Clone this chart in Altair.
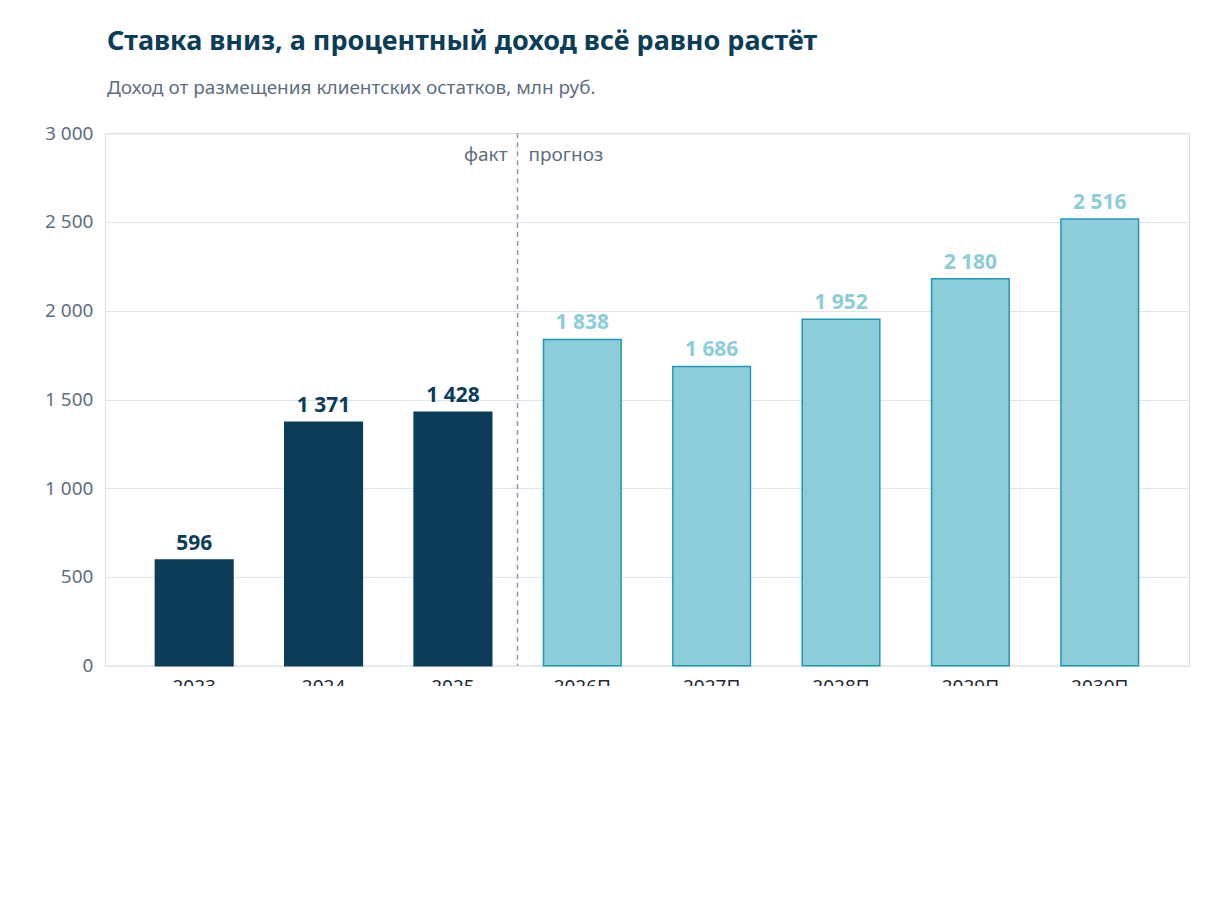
import altair as alt
import pandas as pd

years = ["2023", "2024", "2025", "2026П", "2027П", "2028П", "2029П", "2030П"]
values = [596, 1371, 1428, 1838, 1686, 1952, 2180, 2516]
labels = ["596", "1 371", "1 428", "1 838", "1 686", "1 952", "2 180", "2 516"]
kinds = ["fact", "fact", "fact", "fc", "fc", "fc", "fc", "fc"]

title = "Ставка вниз, а процентный доход всё равно растёт"
subtitle = "Доход от размещения клиентских остатков, млн руб."
note = [
    "В 2026 году в доход попали задатки участников торгов по Домодедово, разовый эффект. Дальше база",
    "растёт вместе с клиентскими остатками и перекрывает снижение ключевой ставки с 14,5% в 2026 году",
    "до 11,5% с 2028-го.",
]
source = "Финмодель Усиленных Инвестиций"

df = pd.DataFrame({"year": years, "value": values, "label": labels, "kind": kinds})
FONT = "Noto Sans"

xs = alt.Scale(domain=years, paddingInner=0.4, paddingOuter=0.39)
ys = alt.Scale(domain=[0, 3000])
X = alt.X("year:N", scale=xs, sort=years,
          axis=alt.Axis(title=None, labelAngle=0, labelFontSize=19, labelColor="#1f2a36",
                        labelFont=FONT, ticks=False, domain=False, labelPadding=12))
Y = alt.Y("value:Q", scale=ys,
          axis=alt.Axis(title=None, values=[0, 500, 1000, 1500, 2000, 2500, 3000],
                        labelExpr="replace(format(datum.value, ',d'), ',', ' ')",
                        labelFontSize=19, labelColor="#5d6e80", labelFont=FONT,
                        ticks=False, domain=False, gridColor="#dde4ec", labelPadding=12))

col = alt.Color("kind:N", scale=alt.Scale(domain=["fact", "fc"], range=["#0b3d59", "#8ccdd9"]), legend=None)
strk = alt.Stroke("kind:N", scale=alt.Scale(domain=["fact", "fc"], range=["#0b3d59", "#1a9ab5"]), legend=None)
tcol = alt.Color("kind:N", scale=alt.Scale(domain=["fact", "fc"], range=["#0b3d59", "#1a9ab5"]), legend=None)

base = alt.Chart(df)
bars = base.mark_bar(strokeWidth=1.5).encode(x=X, y=Y, color=col, stroke=strk)
txt = base.mark_text(dy=-16, fontSize=21, fontWeight="bold", font=FONT).encode(
    x=X, y=Y, text="label:N", color=tcol)

# separator sits half an inner padding to the left of the first forecast band
sep = pd.DataFrame({"year": ["2026П"]})
SX = alt.X("year:N", scale=xs, bandPosition=0)
rule = alt.Chart(sep).mark_rule(strokeDash=[5, 4], color="#8a9bb0", strokeWidth=1.5, xOffset=-26).encode(
    x=SX, y=alt.value(0), y2=alt.value(533))
fakt = alt.Chart(sep).mark_text(align="right", dx=-36, fontSize=19, color="#5d6e80", font=FONT).encode(
    x=SX, y=alt.value(22), text=alt.value("факт"))
prog = alt.Chart(sep).mark_text(align="left", dx=-15, fontSize=19, color="#5d6e80", font=FONT).encode(
    x=SX, y=alt.value(22), text=alt.value("прогноз"))

def free_text(t, x, y, **kw):
    return alt.Chart(pd.DataFrame({"t": [t]})).mark_text(align="left", font=FONT, **kw).encode(
        x=alt.value(x), y=alt.value(y), text="t:N")

extras = [
    free_text(title, 2, -91, fontSize=27, fontWeight="bold", color="#0b3d59"),
    free_text(subtitle, 2, -45, fontSize=19, color="#5d6e80"),
    free_text(source, -77, 729, fontSize=16, fontStyle="italic", color="#6b7a8c"),
]
for i, line in enumerate(note):
    extras.append(free_text(line, -77, 637 + 31 * i, fontSize=19, color="#2a3644"))

chart = alt.layer(bars, txt, rule, fakt, prog, *extras).properties(
    width=1085, height=533, autosize=alt.AutoSizeParams(type="none"),
    padding={"left": 97, "top": 125, "right": 20, "bottom": 20},
).configure_view(stroke=None).configure(background="white")

chart.save("out.html", embed_options={"renderer": "svg", "actions": False})
